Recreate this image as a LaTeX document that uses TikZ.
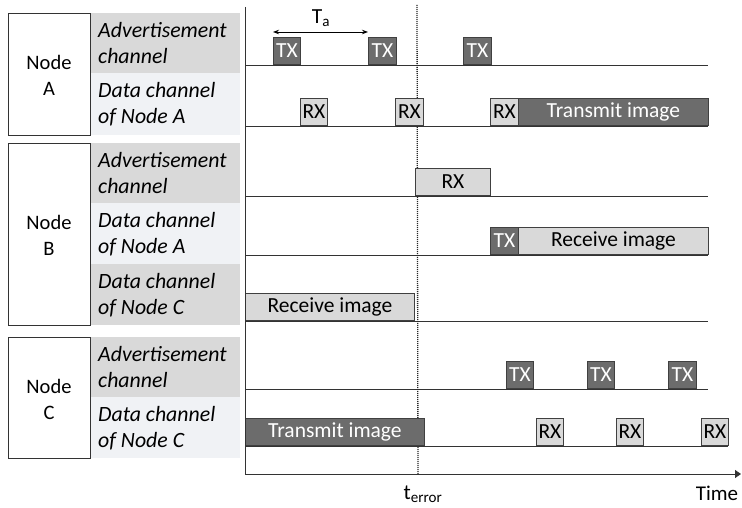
\documentclass[tikz,border=0pt]{standalone}
\usepackage{fontspec}
\setmainfont{Carlito}
\usetikzlibrary{arrows.meta}
\begin{document}
\begin{tikzpicture}[x=1pt,y=1pt,
  nodebox/.style={draw=black!80,line width=0.9pt,fill=white},
  chancell/.style={anchor=west,inner sep=0pt,align=left,font=\fontsize{21.8}{26}\selectfont\itshape},
  slotdark/.style={draw=black!75,line width=0.9pt,fill=darkSlot,text=white,anchor=south west,minimum height=27pt,inner sep=0pt,font=\fontsize{21.5}{24}\selectfont},
  slotlight/.style={draw=black!75,line width=0.9pt,fill=lightSlot,text=black,anchor=south west,minimum height=27pt,inner sep=0pt,font=\fontsize{21.5}{24}\selectfont},
  timeline/.style={draw=black!80,line width=0.9pt}]
\definecolor{darkSlot}{RGB}{108,108,108}
\definecolor{lightSlot}{RGB}{217,217,217}
\definecolor{cellDark}{RGB}{217,217,217}
\definecolor{cellLight}{RGB}{240,242,245}
\path[use as bounding box,fill=white] (0,0) rectangle (742,508);

% node boxes
\path[nodebox] (  8,373) rectangle ( 90,495);
\node[align=center,font=\fontsize{20.5}{26}\selectfont] (nodeA) at ( 49,433) {Node\\A};
\path[nodebox] (  8,183) rectangle ( 90,365);
\node[align=center,font=\fontsize{20.5}{26}\selectfont] (nodeB) at ( 49,273) {Node\\B};
\path[nodebox] (  8, 50) rectangle ( 90,171);
\node[align=center,font=\fontsize{20.5}{26}\selectfont] (nodeC) at ( 49,109) {Node\\C};

% channel cells
\path[fill=cellDark]  ( 91,435) rectangle (240,495);
\path[fill=cellLight] ( 91,373) rectangle (240,435);
\path[fill=cellDark]  ( 91,305) rectangle (240,365);
\path[fill=cellLight] ( 91,244) rectangle (240,305);
\path[fill=cellDark]  ( 91,183) rectangle (240,244);
\path[fill=cellDark]  ( 91,111) rectangle (240,171);
\path[fill=cellLight] ( 91, 50) rectangle (240,111);

\node[chancell] (chAadv)  at ( 98,465) {Advertisement\\channel};
\node[chancell] (chAdat)  at ( 98,404) {Data channel\\of Node A};
\node[chancell] (chBadv)  at ( 98,335) {Advertisement\\channel};
\node[chancell] (chBdatA) at ( 98,274) {Data channel\\of Node A};
\node[chancell] (chBdatC) at ( 98,213) {Data channel\\of Node C};
\node[chancell] (chCadv)  at ( 98,141) {Advertisement\\channel};
\node[chancell] (chCdat)  at ( 98, 80) {Data channel\\of Node C};

% time lines
\path[timeline] (245,443) -- (708,443);
\path[timeline] (245,382) -- (708,382);
\path[timeline] (245,312) -- (708,312);
\path[timeline] (245,253) -- (708,253);
\path[timeline] (245,187) -- (708,187);
\path[timeline] (245,119) -- (708,119);
\path[timeline] (245, 62) -- (728, 62);

% error instant
\coordinate (errTop) at (417,503);
\coordinate (errBot) at (418, 34);
\draw[black!85,line width=1.3pt,dash pattern=on 1pt off 1pt] (errTop) -- (errBot);

% node A
\node[slotdark,minimum width=27pt] (aTx1) at (273,443) {TX};
\node[slotdark,minimum width=28pt] (aTx2) at (368,443) {TX};
\node[slotdark,minimum width=28pt] (aTx3) at (463,443) {TX};
\node[slotlight,minimum width=27pt] (aRx1) at (300,382) {RX};
\node[slotlight,minimum width=28pt] (aRx2) at (395,382) {RX};
\node[slotlight,minimum width=28pt] (aRx3) at (490,382) {RX};
\node[slotdark,minimum width=190pt] (aSend) at (518,382) {Transmit image};

% node B
\node[slotlight,minimum width=75pt] (bRx) at (415,312) {RX};
\node[slotdark,minimum width=28pt] (bTx) at (490,253) {TX};
\node[slotlight,minimum width=190pt] (bGetA) at (518,253) {Receive image};
\node[slotlight,minimum width=169pt] (bGetC) at (245,187) {Receive image};

% node C
\node[slotdark,minimum width=27pt] (cTx1) at (506,119) {TX};
\node[slotdark,minimum width=27pt] (cTx2) at (587,119) {TX};
\node[slotdark,minimum width=28pt] (cTx3) at (668,119) {TX};
\node[slotdark,minimum width=179pt] (cSend) at (245, 62) {Transmit image};
\node[slotlight,minimum width=27pt] (cRx1) at (536, 62) {RX};
\node[slotlight,minimum width=27pt] (cRx2) at (616, 62) {RX};
\node[slotlight,minimum width=27pt] (cRx3) at (701, 62) {RX};

% advertising interval
\draw[{Stealth[length=6pt]}-{Stealth[length=6pt]},line width=0.9pt] (aTx1.north west|-0,476) coordinate (taL) -- (aTx2.north west|-0,476) coordinate (taR);
\node[font=\fontsize{21.5}{24}\selectfont] (taLabel) at (321,490) {T\textsubscript{a}};

% axes
\coordinate (origin) at (245, 34);
\coordinate (yTop) at (245,501);
\coordinate (xEnd) at (741, 34);
\draw[black!80,line width=0.9pt] (yTop) -- (origin);
\draw[black!80,line width=0.9pt,-{Triangle[length=6pt,width=8pt]}] (origin) -- (xEnd);
\node[font=\fontsize{21.5}{24}\selectfont] (tErr) at (423, 14) {t\textsubscript{error}};
\node[font=\fontsize{21}{24}\selectfont] (timeLabel) at (717, 15) {Time};
\end{tikzpicture}
\end{document}
